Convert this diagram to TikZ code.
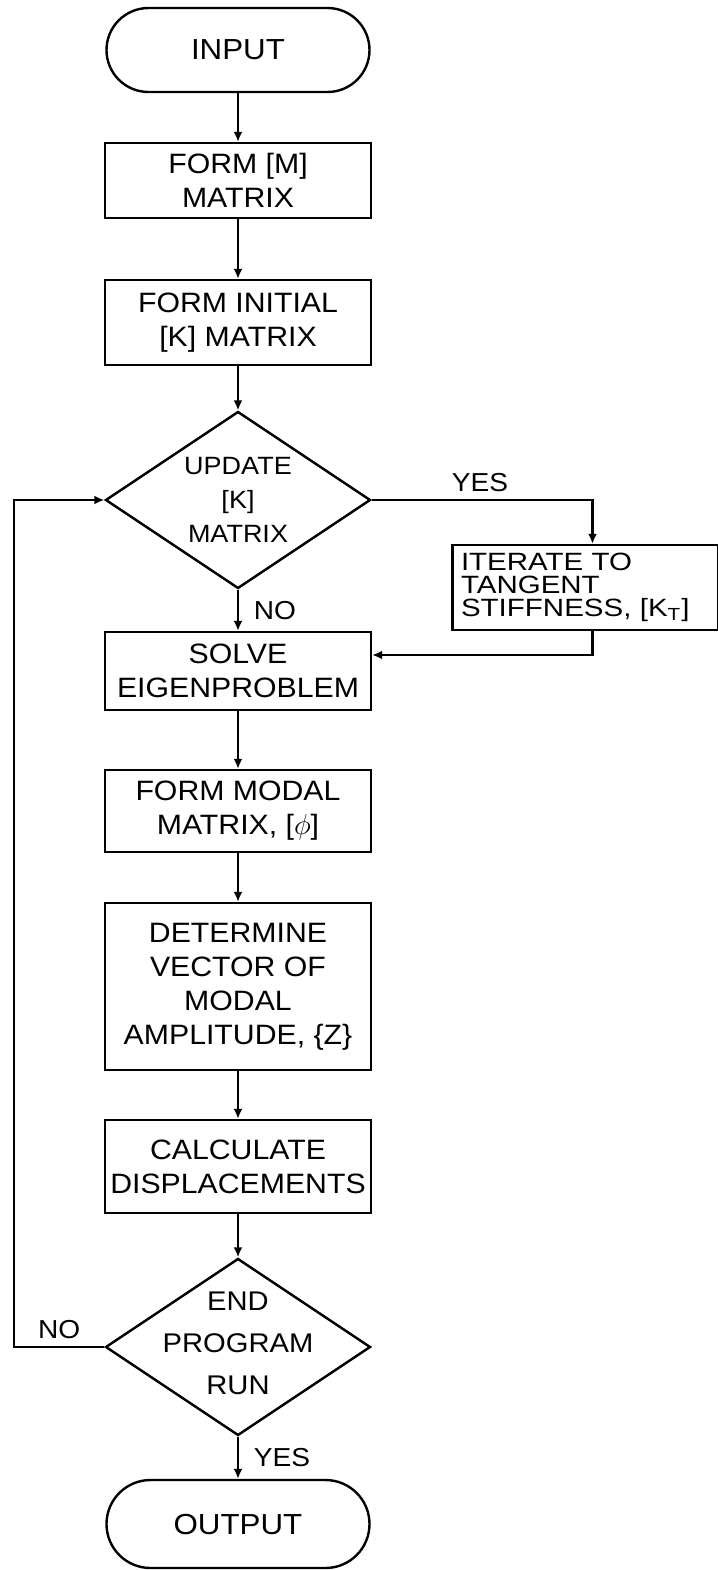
\documentclass[tikz,border=0pt]{standalone}
\usepackage{fontspec}
\setmainfont[FakeStretch=1.08]{Liberation Sans}
\usetikzlibrary{shapes.geometric,arrows.meta}

\tikzset{
  proc/.style={draw, line width=1.2pt, minimum width=133pt, align=center, inner sep=2pt,
    font=\fontsize{14}{17}\selectfont},
  term/.style={draw, line width=1.2pt, rounded corners=21pt, minimum width=131.5pt,
    minimum height=42pt, font=\fontsize{14.5}{17}\selectfont},
  decision/.style={draw, diamond, line width=1.2pt, minimum width=132.5pt,
    minimum height=88.5pt, inner sep=0pt},
  arr/.style={line width=1.2pt, -{Latex[length=5pt,width=4.5pt]}},
  lbl/.style={font=\fontsize{13}{15}\selectfont}
}

\begin{document}
\begin{tikzpicture}[x=0.5pt, y=-0.5pt]
\useasboundingbox (0,0) rectangle (718,1570);

% main column
\node[term] (in) at (238,50) {INPUT};
\node[proc, minimum height=37.5pt] (formM) at (238,180.5) {FORM [M]\\MATRIX};
\node[proc, minimum height=42.5pt] (formK) at (238,322.5) {FORM INITIAL\\{[K]} MATRIX};
\node[decision] (upd) at (238,500) {};
\node[align=center, font=\fontsize{12.5}{17}\selectfont] (updtxt) at (upd) {UPDATE\\{[K]}\\MATRIX};
\node[proc, minimum height=39pt] (solve) at (238,671) {SOLVE\\EIGENPROBLEM};
\node[proc, minimum height=41pt] (modal) at (238,811) {FORM MODAL\\MATRIX, [$\phi$]};
\node[proc, minimum height=83.5pt] (det) at (238,986.5) {DETERMINE\\VECTOR OF\\MODAL\\AMPLITUDE, \{Z\}};
\node[proc, minimum height=46.5pt] (calc) at (238,1166.5) {CALCULATE\\DISPLACEMENTS};
\node[decision] (endp) at (238,1347) {};
\node[align=center, font=\fontsize{13.5}{21}\selectfont] (endtxt) at ([yshift=2pt]endp) {END\\PROGRAM\\RUN};
\node[term, minimum height=44pt, rounded corners=22pt] (out) at (238,1524) {OUTPUT};

% side box
\node[proc, align=left, text width=124.5pt, inner sep=3pt, minimum height=42.5pt,
  font=\fontsize{12.5}{11.5}\selectfont\addfontfeatures{FakeStretch=1.18}] (iter) at (585.5,587.5)
  {ITERATE TO\\TANGENT\\STIFFNESS, [K\textsubscript{T}]};

\coordinate (loop) at (14,1347);

% connectors
\draw[arr] (in) -- (formM);
\draw[arr] (formM) -- (formK);
\draw[arr] (formK) -- (upd);
\draw[arr] (upd) -- (solve) node[lbl, midway, right=4pt] {NO};
\draw[arr] (upd.east) -| ([xshift=3.5pt]iter.north) node[lbl, pos=0.245, above] {YES};
\draw[arr] ([xshift=3.5pt]iter.south) |- ([yshift=8pt]solve.east);
\draw[arr] (solve) -- (modal);
\draw[arr] (modal) -- (det);
\draw[arr] (det) -- (calc);
\draw[arr] (calc) -- (endp);
\draw[arr] (endp) -- (out) node[lbl, midway, right=4pt] {YES};
\draw[arr] (endp.west) -- (loop) node[lbl, midway, above] {NO} |- (upd.west);
\end{tikzpicture}
\end{document}
